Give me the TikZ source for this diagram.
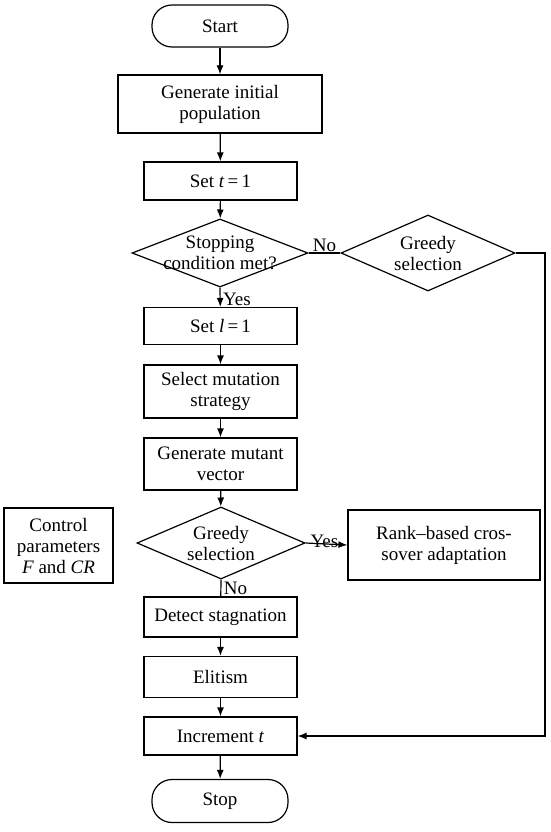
\documentclass[tikz,border=0pt]{standalone}
\usepackage{fontspec}
\setmainfont{Liberation Serif}
\usetikzlibrary{shapes.geometric,arrows.meta}

\begin{document}
\begin{tikzpicture}[x=1pt,y=-1pt,line width=1.2pt,>={Latex[length=9pt,width=7pt]},
  txt/.style={font=\fontsize{19}{21}\selectfont,align=center},
  box/.style={txt,draw,rectangle,minimum width=153pt,inner sep=0pt},
  term/.style={txt,draw,rectangle,rounded corners=20pt,minimum width=136pt,minimum height=42pt},
  decision/.style={draw,diamond,inner sep=0pt}]
\useasboundingbox (0,0) rectangle (550,832);
   % main column
   \node[term] (start) at (220,26) {Start};
   \node[box,minimum width=204pt,minimum height=58pt] (init) at (220,104) {Generate initial\\population};
   \node[box,minimum height=38pt] (sett) at (220.5,181) {Set \textit{t}\,=\,1};
   \node[decision,minimum width=176pt,minimum height=68pt] (cond) at (220,253) {};
   \node[txt] (condtxt) at (cond) {Stopping\\condition met?};
   \node[decision,minimum width=174pt,minimum height=76pt] (gsel) at (428,253) {};
   \node[txt] (gseltxt) at (gsel) {Greedy\\selection};
   \node[box,minimum height=37pt] (setl) at (220.5,326) {Set \textit{l}\,=\,1};
   \node[box,minimum height=53pt] (mut) at (220.5,391.5) {Select mutation\\strategy};
   \node[box,minimum height=52pt] (vec) at (220.5,464) {Generate mutant\\vector};
   \node[decision,minimum width=168pt,minimum height=72pt] (gsel2) at (221,543) {};
   \node[txt] (gsel2txt) at (gsel2) {Greedy\\selection};
   \node[box,minimum width=109pt,minimum height=75pt] (ctrl) at (58.5,545.5) {Control\\parameters\\\textit{F} and \textit{CR}};
   \node[box,minimum width=192pt,minimum height=70pt] (rank) at (444,545) {Rank--based cros-\\sover adaptation};
   \node[box,minimum height=40pt] (stag) at (220.5,617) {Detect stagnation};
   \node[box,minimum height=41pt] (elit) at (220.5,677) {Elitism};
   \node[box,minimum height=38pt] (incr) at (220.5,736) {Increment \textit{t}};
   \node[term,minimum height=43pt] (stop) at (220,801) {Stop};
   \coordinate (back) at (545,253);
   % connectors
   \draw[->] (start) -- (init);
   \draw[->] (init) -- (sett);
   \draw[->] (sett) -- (cond);
   \draw (cond.east) -- node[txt,above=-3pt] (no1) {No} (gsel.west);
   \draw[->] (gsel.east) -- (back) |- (incr.east);
   \draw[->] (cond.south) -- node[txt,right=-1pt,pos=0.6] (yes1) {Yes} (setl);
   \draw[->] (setl) -- (mut);
   \draw[->] (mut) -- (vec);
   \draw[->] (vec) -- (gsel2);
   \draw[->] (gsel2.east) -- node[txt,above=-8pt,pos=0.45] (yes2) {Yes} (rank.west);
   \draw (gsel2.south) -- node[txt,right=-1pt,pos=0.5] (no2) {No} (stag);
   \draw[->] (stag) -- (elit);
   \draw[->] (elit) -- (incr);
   \draw[->] (incr) -- (stop);
\end{tikzpicture}
\end{document}
